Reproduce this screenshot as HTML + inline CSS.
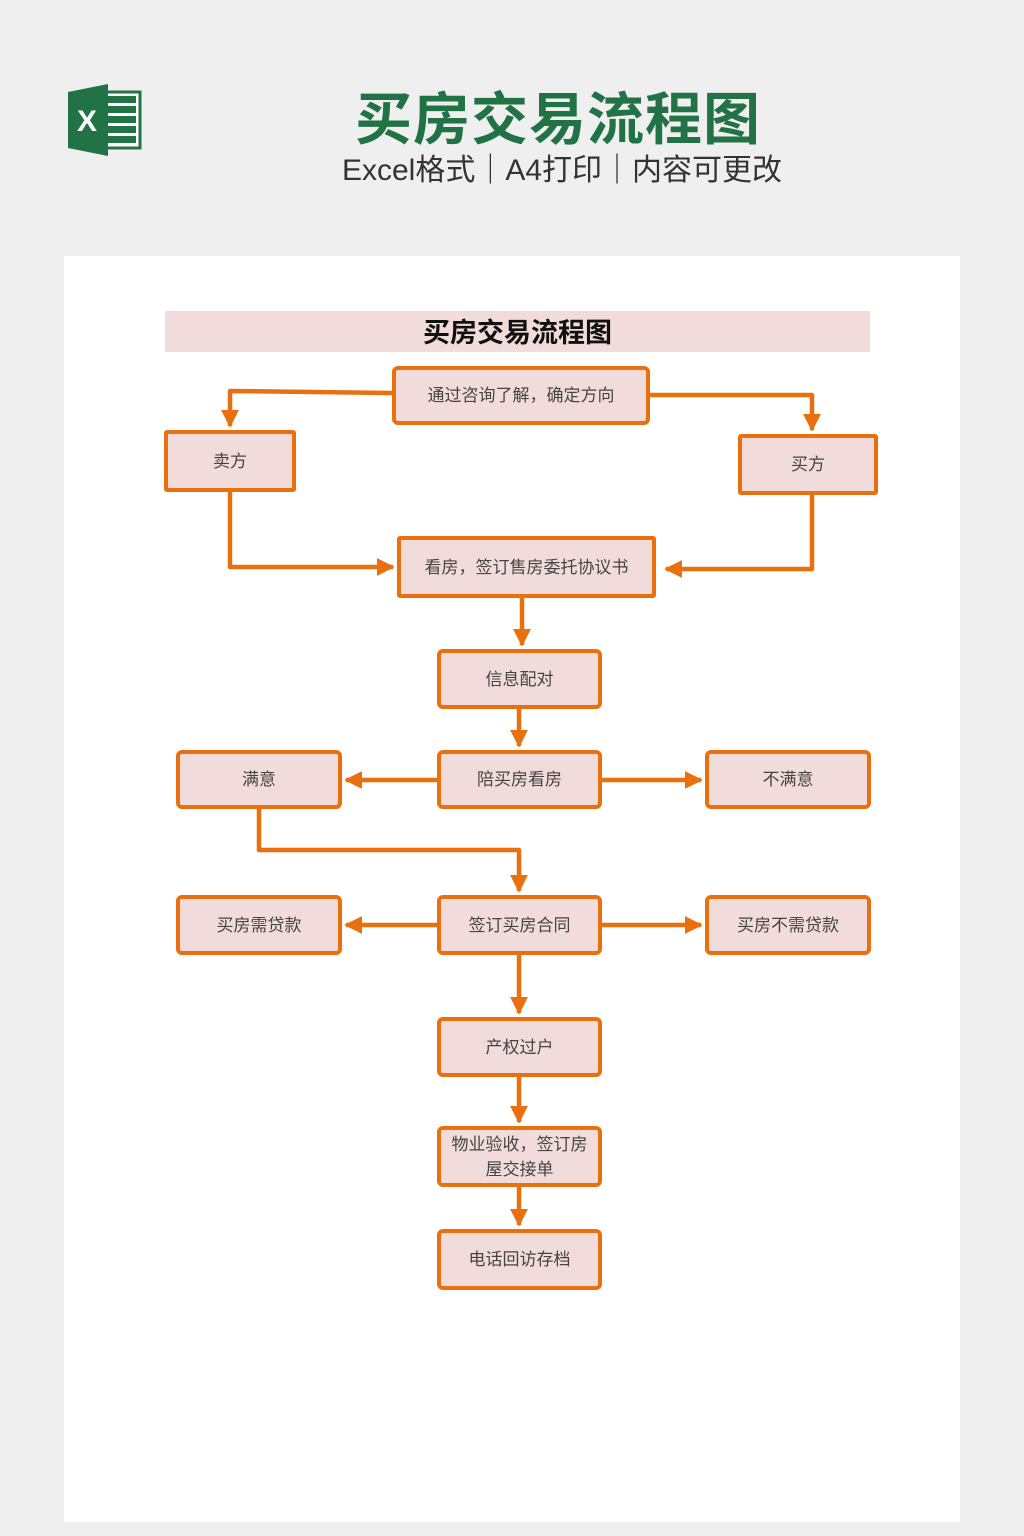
<!DOCTYPE html>
<html><head><meta charset="utf-8"><style>
body{margin:0;width:1024px;height:1536px;background:#efefef;position:relative;overflow:hidden;font-family:"Liberation Sans","Noto Sans CJK SC",sans-serif}
.t{position:absolute;left:0;width:1024px;text-align:center}
.page{position:absolute;left:64px;top:256px;width:896px;height:1266px;background:#fff}
.b{position:absolute;box-sizing:border-box;border:4.5px solid #e8700f;background:#f2dcdb;border-radius:6px;display:flex;align-items:center;justify-content:center;text-align:center;font-size:17px;color:#444;line-height:25px;padding:0 4px}
</style></head><body>
<svg style="position:absolute;left:66px;top:84px" width="78" height="72">
<rect x="30" y="8" width="44" height="56" fill="#fff" stroke="#217346" stroke-width="3"/>
<g fill="#217346"><rect x="40" y="12" width="30" height="7"/><rect x="40" y="22" width="30" height="7"/><rect x="40" y="32" width="30" height="7"/><rect x="40" y="42" width="30" height="7"/><rect x="40" y="52" width="30" height="7"/></g>
<polygon points="2,8 42,0 42,72 2,64" fill="#217346"/>
<text x="11" y="47" font-size="30" font-weight="bold" fill="#fff" font-family="Liberation Sans">X</text>
</svg>
<div class="t" style="top:84px;left:46px;font-size:57px;font-weight:bold;color:#217346;line-height:72px;letter-spacing:1px">买房交易流程图</div>
<div class="t" style="top:153px;left:50px;font-size:30px;color:#333;line-height:36px">Excel格式｜A4打印｜内容可更改</div>
<div class="page"></div>
<div style="position:absolute;left:165px;top:311px;width:705px;height:41px;background:#f2dcdb;text-align:center;font-size:27px;font-weight:bold;line-height:45px;color:#111">买房交易流程图</div>
<svg style="position:absolute;left:0;top:0" width="1024" height="1536">
<defs><marker id="a" viewBox="0 0 10 10" refX="9" refY="5" markerWidth="4" markerHeight="4" orient="auto"><path d="M0,0L10,5L0,10z" fill="#e8700f"/></marker></defs>
<g fill="none" stroke="#e8700f" stroke-width="4.5" stroke-linejoin="round">
<path d="M392,393 L230,391 L230,426" marker-end="url(#a)"/>
<path d="M650,395 L812,395 L812,430" marker-end="url(#a)"/>
<path d="M230,492 L230,567 L393,567" marker-end="url(#a)"/>
<path d="M812,495 L812,569 L666,569" marker-end="url(#a)"/>
<path d="M522,598 L522,645" marker-end="url(#a)"/>
<path d="M519,709 L519,746" marker-end="url(#a)"/>
<path d="M437,780 L346,780" marker-end="url(#a)"/>
<path d="M602,780 L701,780" marker-end="url(#a)"/>
<path d="M259,809 L259,850 L519,850 L519,891" marker-end="url(#a)"/>
<path d="M437,925 L346,925" marker-end="url(#a)"/>
<path d="M602,925 L701,925" marker-end="url(#a)"/>
<path d="M519,955 L519,1013" marker-end="url(#a)"/>
<path d="M519,1077 L519,1122" marker-end="url(#a)"/>
<path d="M519,1187 L519,1225" marker-end="url(#a)"/>
</g></svg>
<div class="b" style="left:392px;top:366px;width:258px;height:59px">通过咨询了解，确定方向</div>
<div class="b" style="left:164px;top:430px;width:132px;height:62px;border-radius:3px">卖方</div>
<div class="b" style="left:738px;top:434px;width:140px;height:61px;border-radius:3px">买方</div>
<div class="b" style="left:397px;top:536px;width:259px;height:62px;border-radius:3px">看房，签订售房委托协议书</div>
<div class="b" style="left:437px;top:649px;width:165px;height:60px">信息配对</div>
<div class="b" style="left:437px;top:750px;width:165px;height:59px">陪买房看房</div>
<div class="b" style="left:176px;top:750px;width:166px;height:59px">满意</div>
<div class="b" style="left:705px;top:750px;width:166px;height:59px">不满意</div>
<div class="b" style="left:437px;top:895px;width:165px;height:60px">签订买房合同</div>
<div class="b" style="left:176px;top:895px;width:166px;height:60px">买房需贷款</div>
<div class="b" style="left:705px;top:895px;width:166px;height:60px">买房不需贷款</div>
<div class="b" style="left:437px;top:1017px;width:165px;height:60px">产权过户</div>
<div class="b" style="left:437px;top:1126px;width:165px;height:61px">物业验收，签订房<br>屋交接单</div>
<div class="b" style="left:437px;top:1229px;width:165px;height:61px">电话回访存档</div>
</body></html>
